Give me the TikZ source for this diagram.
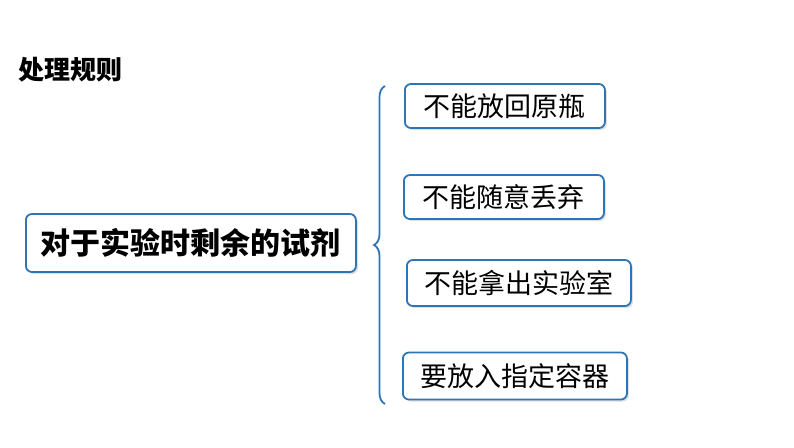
\documentclass[tikz,border=0pt]{standalone}
\usepackage{fontspec}
\newfontfamily\cjk{Noto Sans CJK SC}
\usetikzlibrary{decorations.pathreplacing,shadows}
\definecolor{rulecol}{HTML}{2E75B6}

\tikzset{
	rulebox/.style={draw=rulecol,line width=1.8pt,rounded corners=6pt,fill=white,
		drop shadow={shadow xshift=2pt,shadow yshift=-2pt,fill=black!25},
		anchor=west,inner sep=0pt,minimum height=44pt,font=\cjk\fontsize{27}{27}\selectfont}
}

\begin{document}
\begin{tikzpicture}[x=1pt,y=-1pt]
\useasboundingbox (0,0) rectangle (794,447);
% Title
\node[anchor=west,inner sep=0pt,font=\cjk\bfseries\fontsize{26}{26}\selectfont] (title) at (18,70) {处理规则};

% Main box
\node[rulebox,minimum width=330pt,minimum height=58pt,font=\cjk\bfseries\fontsize{30}{30}\selectfont] (main) at (25,243) {对于实验时剩余的试剂};

% Brace
\coordinate (btop) at (385,86);
\coordinate (bbot) at (385,404);
\draw [rulecol,line width=1.8pt,decorate,decoration={brace,amplitude=11pt}] (bbot) -- (btop);

% Branches
\node[rulebox,minimum width=200pt] (r1) at (404,106) {不能放回原瓶};
\node[rulebox,minimum width=200pt] (r2) at (403,197) {不能随意丢弃};
\node[rulebox,minimum width=224pt,minimum height=46pt] (r3) at (406,283) {不能拿出实验室};
\node[rulebox,minimum width=224pt,minimum height=47pt] (r4) at (402,376) {要放入指定容器};
\end{tikzpicture}
\end{document}
